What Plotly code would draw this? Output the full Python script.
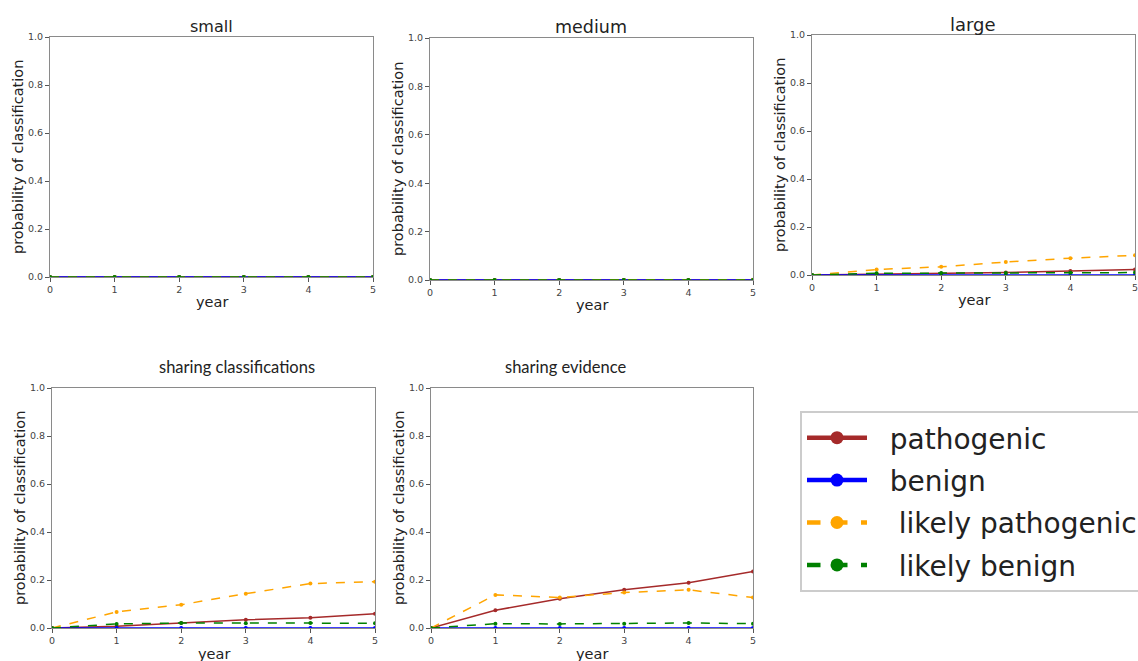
import plotly.graph_objects as go

W, H = 1138, 661
OFF = 0
FW, FH = W - OFF, H - OFF

years = [0, 1, 2, 3, 4, 5]
series_names = ["\u00a0\u00a0pathogenic", "\u00a0\u00a0benign",
                "\u00a0\u00a0\u00a0likely pathogenic", "\u00a0\u00a0\u00a0likely benign"]
panel_titles = ["small", "medium", "large", "sharing classifications", "sharing evidence"]

small_pathogenic = [0, 0, 0, 0, 0, 0]
small_benign = [0, 0, 0, 0, 0, 0]
small_likely_pathogenic = [0, 0, 0, 0, 0, 0]
small_likely_benign = [0, 0, 0, 0, 0, 0]

medium_pathogenic = [0, 0, 0, 0, 0, 0]
medium_benign = [0, 0, 0, 0, 0, 0]
medium_likely_pathogenic = [0, 0, 0, 0, 0, 0.001]
medium_likely_benign = [0, 0, 0, 0, 0, 0]

large_pathogenic = [0, 0.003, 0.006, 0.010, 0.017, 0.023]
large_benign = [0, 0, 0, 0, 0, 0]
large_likely_pathogenic = [0, 0.023, 0.034, 0.054, 0.070, 0.082]
large_likely_benign = [0, 0.007, 0.008, 0.008, 0.009, 0.010]

shcl_pathogenic = [0, 0.007, 0.021, 0.034, 0.043, 0.059]
shcl_benign = [0, 0, 0, 0, 0, 0]
shcl_likely_pathogenic = [0, 0.067, 0.097, 0.143, 0.185, 0.193]
shcl_likely_benign = [0, 0.017, 0.021, 0.020, 0.021, 0.020]

shev_pathogenic = [0, 0.074, 0.122, 0.159, 0.189, 0.235]
shev_benign = [0, 0, 0, 0, 0, 0]
shev_likely_pathogenic = [0, 0.138, 0.127, 0.148, 0.159, 0.127]
shev_likely_benign = [0, 0.018, 0.017, 0.018, 0.021, 0.018]

panels_data = [
    [small_pathogenic, small_benign, small_likely_pathogenic, small_likely_benign],
    [medium_pathogenic, medium_benign, medium_likely_pathogenic, medium_likely_benign],
    [large_pathogenic, large_benign, large_likely_pathogenic, large_likely_benign],
    [shcl_pathogenic, shcl_benign, shcl_likely_pathogenic, shcl_likely_benign],
    [shev_pathogenic, shev_benign, shev_likely_pathogenic, shev_likely_benign],
]

colors = ["#a52a2a", "#0000ff", "#ffa500", "#008000"]
dashes = ["solid", "solid", "dash", "dash"]

# panel pixel boxes (in screen pixels): x0, x1, ytop, ybottom
boxes = [
    (50, 373, 37, 277),
    (430, 753, 38, 280),
    (812, 1135, 35, 275),
    (52, 375, 388, 628),
    (431, 753, 388, 628),
]
title_pos = [(211, 26), (591, 27), (973, 24), (237, 367), (565, 367)]
title_sizes = [16, 17.5, 18, 16.5, 16.5]

def px(x):
    return (x - OFF) / FW

def py(y):
    return 1 - (y - OFF) / FH

fig = go.Figure()
layout = {}
annotations = []
for i, (box, data) in enumerate(zip(boxes, panels_data)):
    n = "" if i == 0 else str(i + 1)
    x0, x1, yt, yb = box
    for j in range(4):
        fig.add_trace(go.Scatter(
            x=years, y=data[j], xaxis="x" + n, yaxis="y" + n,
            mode="lines+markers", showlegend=False,
            line=dict(color=colors[j], width=1.5, dash=dashes[j]),
            marker=dict(color=colors[j], size=4),
        ))
    axline = dict(showline=True, linecolor="#8a8a8a", linewidth=1, mirror=True,
                  ticks="outside", ticklen=4, tickcolor="#555", showgrid=False,
                  zeroline=False, ticklabeloverflow="allow",
                  tickfont=dict(size=9.5, color="#444", family="DejaVu Sans"))
    layout["xaxis" + n] = dict(domain=[px(x0), px(x1)], range=[0, 5], tickvals=years,
                              anchor="y" + n, **axline)
    layout["yaxis" + n] = dict(domain=[py(yb), py(yt)], range=[0, 1],
                              tickvals=[0, 0.2, 0.4, 0.6, 0.8, 1.0], tickformat=".1f",
                              anchor="x" + n, **axline)
    tx, ty = title_pos[i]
    fam = "DejaVu Sans" if i < 3 else "Lato"
    annotations.append(dict(text=panel_titles[i], x=px(tx), y=py(ty), xref="paper", yref="paper",
                            showarrow=False, font=dict(size=title_sizes[i], color="#222", family=fam),
                            xanchor="center", yanchor="middle"))
    annotations.append(dict(text="year", x=px((x0 + x1) / 2), y=py(yb + 25 if i < 3 else yb + 26),
                            xref="paper", yref="paper", showarrow=False,
                            font=dict(size=14.5, color="#222", family="DejaVu Sans"),
                            xanchor="center", yanchor="middle"))
    annotations.append(dict(text="probability of classification", x=px(x0 - 32), y=py((yt + yb) / 2),
                            xref="paper", yref="paper", showarrow=False, textangle=-90,
                            font=dict(size=14.5, color="#222", family="DejaVu Sans"),
                            xanchor="center", yanchor="middle"))

# legend-only traces with thick lines and big markers
for j in range(4):
    fig.add_trace(go.Scatter(
        x=[None], y=[None], name=series_names[j], mode="lines+markers",
        legendgroup=str(j), xaxis="x", yaxis="y",
        line=dict(color=colors[j], width=4.5, dash=dashes[j]),
        marker=dict(color=colors[j], size=13),
    ))

fig.update_layout(
    width=FW, height=FH,
    margin=dict(l=0, r=0, t=0, b=0, autoexpand=False),
    paper_bgcolor="white", plot_bgcolor="white",
    annotations=annotations,
    showlegend=True,
    legend=dict(x=px(800), y=py(411), xanchor="left", yanchor="top",
                bgcolor="white", bordercolor="#cccccc", borderwidth=2,
                font=dict(size=28, color="#222", family="DejaVu Sans"),
                itemwidth=60, tracegroupgap=3, traceorder="grouped"),
    **layout,
)

fig.write_html("out.html", config={"displayModeBar": False},
               post_script="document.body.style.margin='0';document.body.style.overflow='hidden';")
